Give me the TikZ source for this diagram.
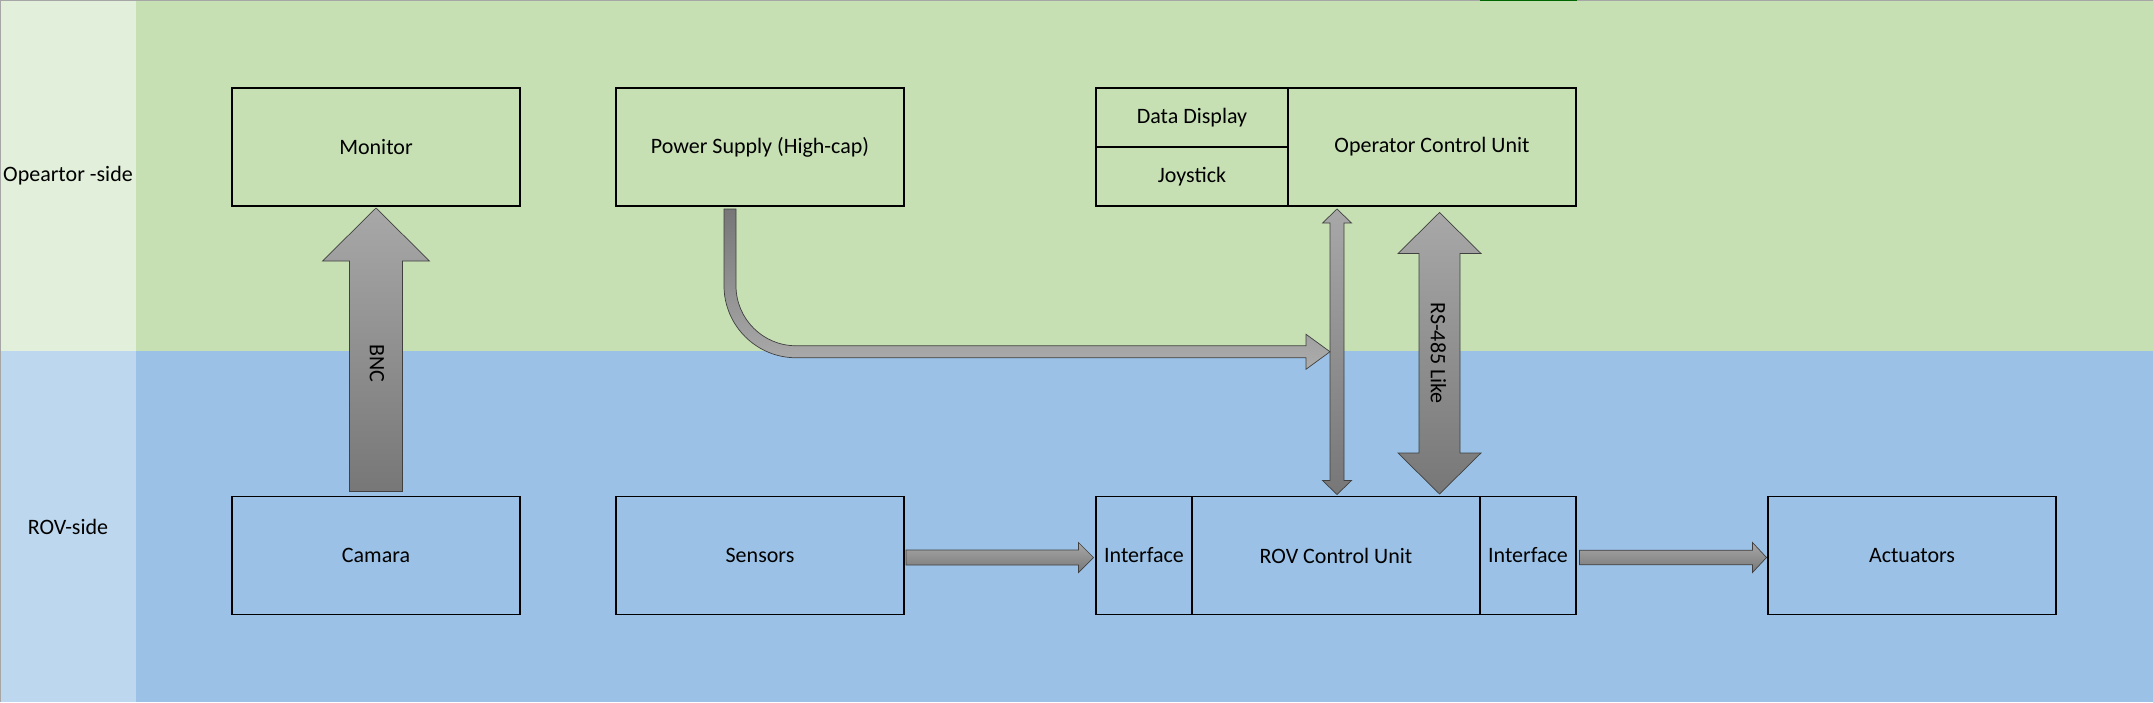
\documentclass[tikz,border=0pt]{standalone}
\usepackage{fontspec}
\setmainfont{Carlito}
\usepackage{tikz}
\usetikzlibrary{calc}
\definecolor{opgreen}{HTML}{C6E0B4}
\definecolor{opgreenl}{HTML}{E2EFDA}
\definecolor{rovblue}{HTML}{9BC2E6}
\definecolor{rovbluel}{HTML}{BDD7EE}
\definecolor{arrowline}{HTML}{404040}
\definecolor{arrowlight}{HTML}{A8A8A8}
\definecolor{arrowdark}{HTML}{777777}
\tikzset{
  lbl/.style={font=\fontsize{11}{13}\selectfont},
  unitbox/.style={lbl, draw=black, line width=0.85pt, minimum width=144pt, minimum height=59pt, inner sep=0pt, outer sep=0pt},
  blockarrow/.style={draw=arrowline, line width=0.35pt, top color=arrowlight, bottom color=arrowdark},
}

\begin{document}
\begin{tikzpicture}[x=0.5pt,y=-0.5pt]
  \useasboundingbox (0,0) rectangle (2153,702);
  % sheet background
  \fill[opgreenl] (0,0) rectangle (136,351);
  \fill[opgreen] (136,0) rectangle (2153,351);
  \fill[rovbluel] (0,351) rectangle (136,702);
  \fill[rovblue] (136,351) rectangle (2153,702);
  \draw[gray!70, line width=0.5pt] (0,702) -- (0,0.5) -- (2153,0.5);
  \draw[green!40!black, line width=0.6pt] (1480,0.5) -- (1577,0.5);
  \node[lbl] (optxt) at (68,175.5) {Opeartor -side};
  \node[lbl] (rovtxt) at (68,526.5) {ROV-side};

  % operator side
  \node[unitbox] (mon) at (376,147) {Monitor};
  \node[unitbox] (pow) at (760,147) {Power Supply (High-cap)};
  \node[unitbox] (ocu) at (1432,147) {Operator Control Unit};
  \node[unitbox, minimum width=96pt, minimum height=29.5pt, anchor=north east] (disp) at (ocu.north west) {Data Display};
  \node[unitbox, minimum width=96pt, minimum height=29.5pt, anchor=north] (joy) at (disp.south) {Joystick};

  % rov side
  \node[unitbox] (cam) at (376,555.5) {Camara};
  \node[unitbox] (sen) at (760,555.5) {Sensors};
  \node[unitbox] (rcu) at (1336,555.5) {ROV Control Unit};
  \node[unitbox, minimum width=48pt, anchor=east] (ifl) at (rcu.west) {Interface};
  \node[unitbox, minimum width=48pt, anchor=west] (ifr) at (rcu.east) {Interface};
  \node[unitbox] (act) at (1912,555.5) {Actuators};

  % BNC video link
  \draw[blockarrow] ($(cam.north)+(-26.5,-5)$) -- ($(mon.south)+(-26.5,55)$) -- ($(mon.south)+(-53.5,55)$)
    -- ($(mon.south)+(0,2)$) -- ($(mon.south)+(53.5,55)$) -- ($(mon.south)+(26.5,55)$) -- ($(cam.north)+(26.5,-5)$) -- cycle;
  \node[lbl, rotate=-90] (bnc) at ($(cam.north)!0.5!(mon.south)+(1,12)$) {BNC};

  % tether bus
  \coordinate (busT) at ($(rcu.north |- ocu.south)+(1,3)$);
  \coordinate (busB) at ($(rcu.north)+(1,-2)$);
  \draw[blockarrow] (busT) -- ($(busT)+(14.5,14)$) -- ($(busT)+(7,14)$) -- ($(busB)+(7,-14)$) -- ($(busB)+(14.5,-14)$)
    -- (busB) -- ($(busB)+(-14.5,-14)$) -- ($(busB)+(-7,-14)$) -- ($(busT)+(-7,14)$) -- ($(busT)+(-14.5,14)$) -- cycle;

  % power feed into the bus
  \coordinate (tip) at ($(busT)!0.5!(busB)+(-7,0)$);
  \coordinate (pwA) at ($(pow.south)+(-30,3)$);
  \coordinate (pwC) at (pwA |- tip);
  \draw[blockarrow, top color=arrowdark, bottom color=arrowlight!95!white] ($(pwA)+(-6,0)$) -- ($(pwC)+(-6,-66)$)
    .. controls ($(pwC)+(-6,-26.3)$) and ($(pwC)+(26.3,6)$) .. ($(pwC)+(66,6)$)
    -- ($(tip)+(-24,6)$) -- ($(tip)+(-24,17.5)$) -- (tip) -- ($(tip)+(-24,-17.5)$) -- ($(tip)+(-24,-6)$)
    -- ($(pwC)+(66,-6)$) .. controls ($(pwC)+(32.9,-6)$) and ($(pwC)+(6,-32.9)$) .. ($(pwC)+(6,-66)$)
    -- ($(pwA)+(6,0)$) -- cycle;

  % RS-485 data link
  \coordinate (rsT) at ($(ocu.south)+(7.5,6.5)$);
  \coordinate (rsB) at ($(rsT |- rcu.north)+(0,-2.5)$);
  \draw[blockarrow] (rsT) -- ($(rsT)+(41.5,41)$) -- ($(rsT)+(20.5,41)$) -- ($(rsB)+(20.5,-41)$) -- ($(rsB)+(41.5,-41)$)
    -- (rsB) -- ($(rsB)+(-41.5,-41)$) -- ($(rsB)+(-20.5,-41)$) -- ($(rsT)+(-20.5,41)$) -- ($(rsT)+(-41.5,41)$) -- cycle;
  \node[lbl, rotate=-90] (rs) at ($(rsT)!0.5!(rsB)+(-1,0)$) {RS-485 Like};

  % sensor and actuator links
  \coordinate (snA) at ($(sen.east)+(2,2)$);
  \coordinate (snB) at ($(ifl.west)+(-2.5,2)$);
  \draw[blockarrow] ($(snA)+(0,-7.5)$) -- ($(snB)+(-15,-7.5)$) -- ($(snB)+(-15,-15)$) -- (snB)
    -- ($(snB)+(-15,15)$) -- ($(snB)+(-15,7.5)$) -- ($(snA)+(0,7.5)$) -- cycle;
  \coordinate (acA) at ($(ifr.east)+(3.5,2)$);
  \coordinate (acB) at ($(act.west)+(-1.5,2)$);
  \draw[blockarrow] ($(acA)+(0,-7.3)$) -- ($(acB)+(-14,-7.3)$) -- ($(acB)+(-14,-15)$) -- (acB)
    -- ($(acB)+(-14,15)$) -- ($(acB)+(-14,7.3)$) -- ($(acA)+(0,7.3)$) -- cycle;
\end{tikzpicture}
\end{document}
